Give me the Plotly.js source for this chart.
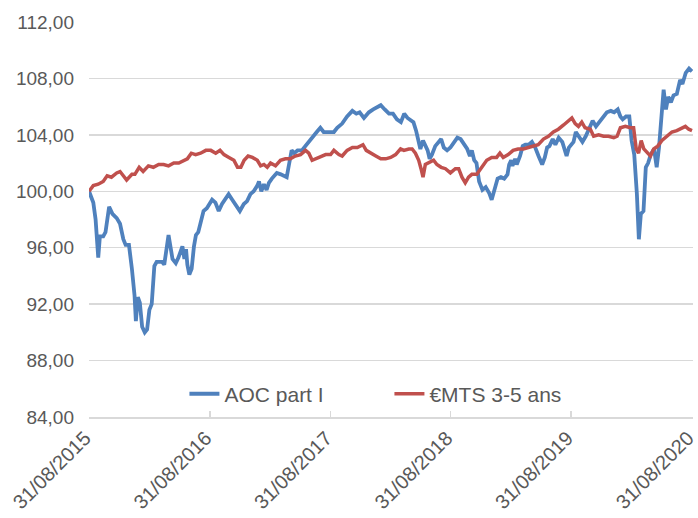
<!DOCTYPE html>
<html>
<head>
<meta charset="utf-8">
<script src="https://cdn.plot.ly/plotly-3.0.1.min.js"></script>
<style>
html,body{margin:0;padding:0;background:#fff;}
#chart{width:698px;height:518px;}
</style>
</head>
<body>
<div id="chart"></div>
<script>
const seriesNames = ["AOC part I", "€MTS 3-5 ans"];

const aocDates = ["2015-08-31","2015-09-13","2015-09-20","2015-09-28","2015-10-03","2015-10-13","2015-10-20","2015-10-31","2015-11-10","2015-11-23","2015-12-03","2015-12-13","2015-12-20","2015-12-30","2016-01-08","2016-01-16","2016-01-20","2016-01-26","2016-02-01","2016-02-08","2016-02-16","2016-02-23","2016-03-01","2016-03-08","2016-03-16","2016-03-23","2016-04-08","2016-04-15","2016-04-28","2016-05-10","2016-05-20","2016-05-28","2016-06-09","2016-06-15","2016-06-20","2016-06-24","2016-06-30","2016-07-07","2016-07-14","2016-07-20","2016-07-27","2016-08-04","2016-08-12","2016-08-22","2016-09-07","2016-09-17","2016-09-27","2016-10-07","2016-10-17","2016-10-27","2016-11-07","2016-11-17","2016-11-30","2016-12-12","2016-12-22","2017-01-01","2017-01-11","2017-01-22","2017-01-27","2017-02-03","2017-02-11","2017-02-19","2017-02-26","2017-03-07","2017-03-22","2017-04-03","2017-04-21","2017-04-28","2017-05-06","2017-05-14","2017-05-24","2017-06-06","2017-06-21","2017-07-06","2017-07-21","2017-08-01","2017-08-11","2017-08-26","2017-09-11","2017-09-21","2017-10-06","2017-10-21","2017-11-06","2017-11-18","2017-11-28","2017-12-11","2017-12-26","2018-01-08","2018-01-16","2018-01-31","2018-02-12","2018-02-25","2018-03-09","2018-03-21","2018-04-02","2018-04-12","2018-04-22","2018-05-02","2018-05-10","2018-05-18","2018-05-25","2018-05-31","2018-06-08","2018-06-15","2018-06-22","2018-06-28","2018-07-05","2018-07-15","2018-07-25","2018-08-02","2018-08-10","2018-08-20","2018-08-30","2018-09-10","2018-09-20","2018-09-30","2018-10-10","2018-10-20","2018-10-28","2018-11-03","2018-11-10","2018-11-17","2018-11-25","2018-12-05","2018-12-15","2018-12-25","2019-01-02","2019-01-09","2019-01-20","2019-01-30","2019-02-09","2019-02-19","2019-02-24","2019-03-02","2019-03-06","2019-03-14","2019-03-19","2019-03-29","2019-04-06","2019-04-14","2019-04-24","2019-05-04","2019-05-14","2019-05-24","2019-06-04","2019-06-12","2019-06-19","2019-06-26","2019-07-06","2019-07-14","2019-07-24","2019-08-04","2019-08-09","2019-08-17","2019-08-24","2019-09-07","2019-09-14","2019-09-24","2019-10-04","2019-10-14","2019-10-24","2019-11-04","2019-11-14","2019-11-24","2019-12-04","2019-12-17","2019-12-29","2020-01-08","2020-01-19","2020-01-27","2020-02-03","2020-02-13","2020-02-23","2020-03-01","2020-03-09","2020-03-17","2020-03-23","2020-03-29","2020-04-06","2020-04-13","2020-04-20","2020-04-28","2020-05-08","2020-05-16","2020-05-23","2020-05-31","2020-06-06","2020-06-13","2020-06-20","2020-06-28","2020-07-06","2020-07-16","2020-07-26","2020-08-02","2020-08-12","2020-08-22","2020-08-31"];
const aocValues = [100.0,99.2,98.0,95.3,96.8,96.8,97.1,98.9,98.4,98.1,97.7,96.6,96.2,96.2,94.5,92.6,90.8,92.5,92.1,90.4,90.0,90.2,91.6,92.0,94.7,95.0,95.0,94.8,96.9,95.2,94.9,95.3,96.1,95.2,95.9,94.8,94.1,94.5,96.1,96.9,97.1,97.9,98.6,98.8,99.4,99.2,98.6,99.1,99.4,99.8,99.4,99.0,98.6,99.1,99.3,99.8,100.0,100.4,100.7,100.0,100.5,100.1,100.6,100.9,101.3,101.2,101.0,101.9,102.9,102.7,102.9,102.9,103.3,103.7,104.2,104.5,104.2,104.2,104.2,104.5,104.8,105.3,105.7,105.5,105.6,105.2,105.6,105.8,105.9,106.1,105.8,105.5,105.5,105.1,104.9,105.5,105.2,105.0,104.9,104.3,103.5,103.0,103.6,103.3,102.9,102.3,102.6,103.2,103.5,103.7,103.1,102.9,103.1,103.5,103.8,103.7,103.3,103.0,102.5,102.9,102.2,102.0,100.7,100.1,100.3,99.9,99.4,99.9,100.9,101.0,100.9,101.2,101.9,102.2,101.8,102.3,101.9,102.5,103.2,103.3,103.3,103.5,103.1,102.5,101.9,102.4,103.1,103.2,103.7,103.3,103.8,103.5,103.1,102.5,103.1,103.5,104.2,103.8,103.5,103.9,104.4,105.0,104.6,104.9,105.2,105.6,105.7,105.6,105.8,105.3,105.1,105.3,105.3,103.6,102.6,99.8,96.6,98.4,98.6,101.7,102.0,102.6,103.0,101.7,103.1,105.5,107.2,105.8,106.7,106.3,106.8,106.9,107.9,107.6,108.4,108.7,108.5];

const mtsDates = ["2015-08-31","2015-09-13","2015-09-28","2015-10-13","2015-10-25","2015-11-07","2015-11-23","2015-12-03","2015-12-13","2015-12-23","2016-01-08","2016-01-17","2016-01-30","2016-02-11","2016-02-27","2016-03-13","2016-03-29","2016-04-13","2016-04-28","2016-05-14","2016-05-29","2016-06-13","2016-06-24","2016-07-06","2016-07-19","2016-08-03","2016-08-19","2016-09-03","2016-09-18","2016-10-01","2016-10-13","2016-10-28","2016-11-12","2016-11-23","2016-12-03","2016-12-13","2016-12-25","2017-01-07","2017-01-22","2017-02-01","2017-02-11","2017-02-21","2017-03-03","2017-03-18","2017-04-02","2017-04-17","2017-05-02","2017-05-17","2017-06-02","2017-06-17","2017-06-27","2017-07-07","2017-07-17","2017-08-01","2017-08-17","2017-09-01","2017-09-11","2017-09-26","2017-10-06","2017-10-21","2017-11-06","2017-11-21","2017-12-08","2017-12-18","2017-12-31","2018-01-16","2018-01-31","2018-02-15","2018-03-02","2018-03-17","2018-04-01","2018-04-11","2018-04-26","2018-05-06","2018-05-16","2018-05-26","2018-06-02","2018-06-08","2018-06-15","2018-06-25","2018-07-10","2018-07-20","2018-08-02","2018-08-15","2018-08-30","2018-09-14","2018-09-24","2018-10-04","2018-10-14","2018-10-24","2018-11-03","2018-11-18","2018-12-03","2018-12-18","2019-01-02","2019-01-17","2019-01-27","2019-02-06","2019-02-21","2019-03-08","2019-03-23","2019-04-08","2019-04-23","2019-05-08","2019-05-23","2019-06-08","2019-06-23","2019-07-08","2019-07-23","2019-08-08","2019-08-13","2019-08-26","2019-09-02","2019-09-12","2019-09-22","2019-10-02","2019-10-12","2019-10-28","2019-11-07","2019-11-22","2019-12-07","2019-12-22","2020-01-07","2020-01-17","2020-01-27","2020-02-11","2020-02-26","2020-03-07","2020-03-15","2020-03-22","2020-03-30","2020-04-07","2020-04-19","2020-04-27","2020-05-07","2020-05-19","2020-06-01","2020-06-16","2020-07-01","2020-07-16","2020-08-01","2020-08-11","2020-08-21","2020-08-31"];
const mtsValues = [100.0,100.4,100.5,100.7,101.1,101.0,101.3,101.4,101.1,100.8,101.2,101.2,101.7,101.4,101.8,101.7,101.9,101.9,101.8,102.0,102.0,102.2,102.3,102.7,102.6,102.7,102.9,102.9,102.7,102.9,102.6,102.4,102.2,101.7,101.7,102.2,102.5,102.4,102.2,101.8,101.9,101.7,102.0,101.8,102.2,102.3,102.3,102.5,102.6,102.9,102.7,102.2,102.3,102.5,102.6,102.6,102.9,102.6,102.5,102.9,103.1,103.1,103.3,102.9,102.7,102.5,102.3,102.3,102.4,102.6,103.0,102.9,103.0,103.0,102.7,102.2,101.6,101.0,101.9,102.0,102.2,101.9,101.7,101.6,101.3,101.6,101.6,101.0,100.6,101.0,101.2,101.2,101.7,102.2,102.4,102.4,102.7,102.4,102.6,102.9,103.0,103.0,103.1,103.2,103.3,103.7,103.9,104.2,104.4,104.7,104.8,105.0,105.2,104.8,104.6,104.9,104.5,104.4,103.9,104.0,103.9,103.9,103.8,103.9,104.5,104.6,104.5,104.5,103.0,102.7,103.6,103.0,102.7,102.5,103.0,103.2,103.6,103.9,104.2,104.3,104.5,104.6,104.4,104.3];

const tickDates = ["2015-08-31","2016-08-31","2017-08-31","2018-08-31","2019-08-31","2020-08-31"];
const tickLabels = ["31/08/2015","31/08/2016","31/08/2017","31/08/2018","31/08/2019","31/08/2020"];
const yTicks = [84,88,92,96,100,104,108,112];

const traces = [
  {x: aocDates, y: aocValues, name: seriesNames[0], type: "scatter", mode: "lines",
   line: {color: "#4f81bd", width: 3.8}},
  {x: mtsDates, y: mtsValues, name: seriesNames[1], type: "scatter", mode: "lines",
   line: {color: "#c0504d", width: 3.5}}
];

const layout = {
  width: 698, height: 518,
  margin: {l: 89, r: 5, t: 22, b: 101},
  paper_bgcolor: "#ffffff", plot_bgcolor: "#ffffff",
  separators: ", ",
  font: {family: "Liberation Sans, Arial, sans-serif", size: 19, color: "#595959"},
  showlegend: true,
  legend: {orientation: "h", x: 0.158, y: 0.058, xanchor: "left", yanchor: "middle",
           entrywidth: 160, entrywidthmode: "pixels",
           bgcolor: "rgba(0,0,0,0)", font: {size: 21, color: "#595959"}},
  xaxis: {type: "date", range: ["2015-08-31", "2020-09-03"],
          tickmode: "array", tickvals: tickDates, ticktext: tickLabels, tickangle: -45,
          ticklabeloverflow: "allow", ticklabelshift: -4,
          showgrid: false, zeroline: false, showline: true, linecolor: "#d9d9d9", linewidth: 1.5,
          ticks: "inside", ticklen: 6, tickcolor: "#d9d9d9", tickwidth: 1.5,
          tickfont: {size: 20, color: "#595959"}},
  yaxis: {range: [84, 112], tickmode: "array", tickvals: yTicks, tickformat: ".2f",
          showgrid: true, gridcolor: "#d9d9d9", gridwidth: 1.5, zeroline: false, showline: false,
          ticks: "", ticklabelstandoff: 14,
          tickfont: {size: 19, color: "#595959"}}
};

Plotly.newPlot("chart", traces, layout, {displayModeBar: false, staticPlot: true});
</script>
</body>
</html>
